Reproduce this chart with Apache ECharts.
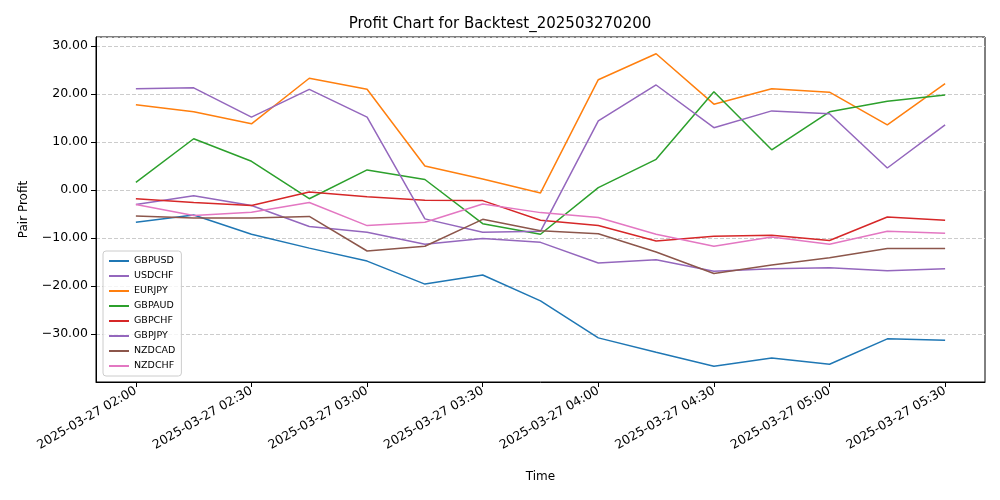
<!DOCTYPE html>
<html><head><meta charset="utf-8">
<script src="https://cdn.jsdelivr.net/npm/echarts@6/dist/echarts.min.js"></script>
<style>html,body{margin:0;background:#fff}#c{width:1000px;height:500px}</style>
</head><body><div id="c"></div>
<script>
const times = ["2025-03-27 02:00","2025-03-27 02:15","2025-03-27 02:30","2025-03-27 02:45","2025-03-27 03:00","2025-03-27 03:15","2025-03-27 03:30","2025-03-27 03:45","2025-03-27 04:00","2025-03-27 04:15","2025-03-27 04:30","2025-03-27 04:45","2025-03-27 05:00","2025-03-27 05:15","2025-03-27 05:30"];
const GBPUSD = [-6.7,-5.2,-9.2,-12.1,-14.8,-19.6,-17.7,-23.1,-30.8,-33.8,-36.7,-35.0,-36.3,-31.0,-31.3];
const USDCHF = [-3.0,-1.2,-3.2,-7.6,-8.8,-11.3,-10.1,-10.9,-15.2,-14.5,-16.9,-16.4,-16.2,-16.8,-16.4];
const EURJPY = [17.8,16.3,13.8,23.3,21.0,5.0,2.3,-0.6,23.0,28.4,17.9,21.1,20.4,13.6,22.2];
const GBPAUD = [1.6,10.7,6.0,-1.8,4.2,2.2,-7.0,-9.2,0.5,6.4,20.5,8.4,16.3,18.5,19.8];
const GBPCHF = [-1.8,-2.6,-3.2,-0.4,-1.4,-2.1,-2.2,-6.3,-7.4,-10.6,-9.6,-9.4,-10.5,-5.6,-6.3];
const GBPJPY = [21.1,21.3,15.2,21.0,15.2,-6.0,-8.8,-8.6,14.4,21.9,13.0,16.5,15.9,4.6,13.6];
const NZDCAD = [-5.4,-5.8,-5.8,-5.5,-12.7,-11.7,-6.1,-8.5,-9.1,-12.9,-17.4,-15.6,-14.1,-12.2,-12.2];
const NZDCHF = [-3.0,-5.3,-4.6,-2.6,-7.4,-6.7,-2.9,-4.7,-5.7,-9.2,-11.7,-9.8,-11.3,-8.6,-9.0];
const seriesDefs = [["GBPUSD",GBPUSD,"#1f77b4"],["USDCHF",USDCHF,"#9467bd"],["EURJPY",EURJPY,"#ff7f0e"],["GBPAUD",GBPAUD,"#2ca02c"],["GBPCHF",GBPCHF,"#d62728"],["GBPJPY",GBPJPY,"#9467bd"],["NZDCAD",NZDCAD,"#8c564b"],["NZDCHF",NZDCHF,"#e377c2"]];
const tickIdx = [0,2,4,6,8,10,12,14];
const chart = echarts.init(document.getElementById('c'));
chart.setOption({
  animation:false,
  title:{text:"Profit Chart for Backtest_202503270200",left:'center',top:12,textStyle:{fontFamily:'DejaVu Sans',fontSize:15,fontWeight:'normal',color:'#000'}},
  grid:{left:96,right:15,top:37,bottom:118,show:true,borderColor:'#000',borderWidth:1,backgroundColor:'transparent'},
  legend:{orient:'vertical',left:103,top:251,itemWidth:20,itemHeight:2,itemGap:5,icon:'rect',
    backgroundColor:'rgba(255,255,255,0.8)',borderColor:'#ccc',borderWidth:1,borderRadius:3,padding:[5,6],
    textStyle:{fontFamily:'DejaVu Sans',fontSize:9.5,color:'#000'},data:seriesDefs.map(s=>s[0])},
  xAxis:{type:'value',min:-0.69,max:14.69,name:'Time',nameLocation:'middle',nameGap:89,
    nameTextStyle:{fontFamily:'DejaVu Sans',fontSize:12,color:'#000'},
    axisLine:{show:true,onZero:false,lineStyle:{color:'#000'}},splitLine:{show:false},
    axisTick:{show:true,customValues:tickIdx,lineStyle:{color:'#000'}},
    axisLabel:{customValues:tickIdx,rotate:30,fontFamily:'DejaVu Sans',fontSize:12.5,color:'#000',
      formatter:v=>times[Math.round(v)]||''}},
  yAxis:{type:'value',min:-40,max:31.9,interval:10,name:'Pair Profit',nameLocation:'middle',nameGap:66,
    nameTextStyle:{fontFamily:'DejaVu Sans',fontSize:12,color:'#000'},
    axisLine:{show:true,onZero:false,lineStyle:{color:'#000'}},axisTick:{show:true,lineStyle:{color:'#000'}},
    splitLine:{show:true,lineStyle:{type:'dashed',color:'#ccc'}},
    axisLabel:{fontFamily:'DejaVu Sans',fontSize:12.5,color:'#000',showMinLabel:false,showMaxLabel:false,
      formatter:v=>v<=-40?'':(v<0?'−'+Math.abs(v).toFixed(2):v.toFixed(2))}},
  series:seriesDefs.map(([n,d,c])=>({name:n,type:'line',showSymbol:false,color:c,lineStyle:{width:1.5,color:c},
    data:d.map((v,i)=>[i,v])}))
});
</script></body></html>
